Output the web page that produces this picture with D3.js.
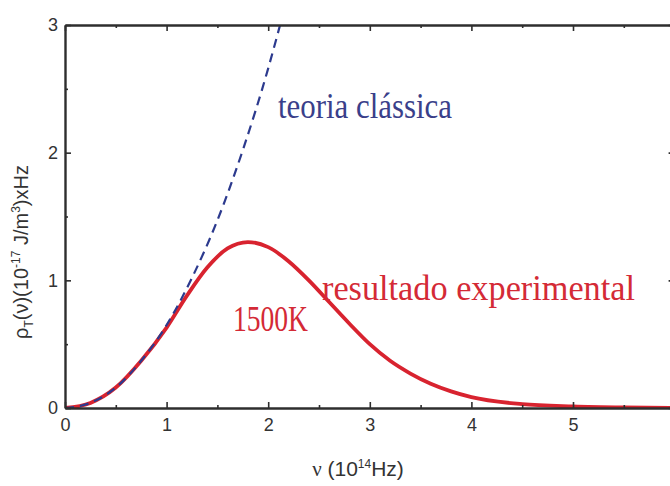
<!DOCTYPE html>
<html>
<head>
<meta charset="utf-8">
<script src="https://cdn.jsdelivr.net/npm/d3@7/dist/d3.min.js"></script>
<style>
  html, body { margin: 0; padding: 0; background: #fff; }
  svg { display: block; }
</style>
</head>
<body>
<svg id="chart" width="670" height="486"></svg>
<script>
// Spectral energy density at 1500 K: measured curve vs. classical prediction
const freq = [0, 0.25, 0.5, 0.75, 1.0, 1.2, 1.4, 1.6, 1.8, 2.0, 2.2, 2.4, 2.6, 2.8, 3.0, 3.2, 3.4, 3.6, 3.8, 4.0, 4.5, 5.0, 5.5, 6.0];
const experimental = [0, 0.04, 0.16, 0.37, 0.63, 0.88, 1.10, 1.25, 1.30, 1.26, 1.15, 1.00, 0.83, 0.66, 0.50, 0.37, 0.27, 0.19, 0.13, 0.085, 0.03, 0.012, 0.004, 0.001];

const freqClassical = [0, 0.25, 0.5, 0.75, 1.0, 1.25, 1.5, 1.75, 2.0, 2.1, 2.2];
const classical = [0, 0.04, 0.16, 0.37, 0.65, 1.02, 1.47, 2.02, 2.66, 2.95, 3.25];

const xTicks = [0, 0.5, 1, 1.5, 2, 2.5, 3, 3.5, 4, 4.5, 5, 5.5, 6];
const xTickLabels = [0, 1, 2, 3, 4, 5];
const yTicks = [0, 0.5, 1, 1.5, 2, 2.5, 3];
const yTickLabels = [0, 1, 2, 3];

const labelClassical = "teoria clássica";
const labelExperimental = "resultado experimental";
const labelTemp = "1500K";

const svg = d3.select("#chart");
const x = d3.scaleLinear().domain([0, 6]).range([65, 674.6]);
const y = d3.scaleLinear().domain([0, 3]).range([408, 25]);

const axisColor = "#2e2e2e";
const tickFont = "'Liberation Sans Narrow', 'Arial Narrow', 'Liberation Sans', Arial, sans-serif";

svg.append("defs").append("clipPath").attr("id", "plot-clip")
  .append("rect")
  .attr("x", x(0)).attr("y", y(3))
  .attr("width", x(6) - x(0)).attr("height", y(0) - y(3));

// curves
const expData = freq.map((f, i) => [f, experimental[i]]);
const clsData = freqClassical.map((f, i) => [f, classical[i]]);
const line = d3.line().x(d => x(d[0])).y(d => y(d[1])).curve(d3.curveMonotoneX);

const plot = svg.append("g").attr("clip-path", "url(#plot-clip)");
plot.append("path")
  .datum(expData)
  .attr("d", line)
  .attr("fill", "none")
  .attr("stroke", "#d8232f")
  .attr("stroke-width", 3.8)
  .attr("stroke-linejoin", "round");
plot.append("path")
  .datum(clsData)
  .attr("d", line)
  .attr("fill", "none")
  .attr("stroke", "#2c3a8e")
  .attr("stroke-width", 2.2)
  .attr("stroke-dasharray", "9,6");

// axes with inward ticks; only integer ticks are long
const isMajor = d => Math.abs(d - Math.round(d)) < 1e-9;
function styleAxis(g, horizontal) {
  g.select(".domain").attr("stroke", axisColor).attr("stroke-width", 2.4);
  g.selectAll(".tick line")
    .attr("stroke", axisColor)
    .attr("stroke-width", 1.6)
    .each(function(d) {
      const el = d3.select(this);
      const len = isMajor(d) ? 6 : 3;
      const attr = horizontal ? "y2" : "x2";
      const cur = +el.attr(attr);
      el.attr(attr, cur < 0 ? -len : len);
    });
  g.selectAll(".tick text")
    .attr("fill", "#333")
    .style("font-family", tickFont)
    .style("font-size", "18px");
}

const xAxis = d3.axisBottom(x).tickValues(xTicks).tickSizeInner(-6).tickSizeOuter(0)
  .tickPadding(10).tickFormat(d => xTickLabels.includes(d) ? d3.format("d")(d) : "");
svg.append("g").attr("transform", `translate(0,${y(0)})`).call(xAxis).call(g => styleAxis(g, true));

const xTop = d3.axisTop(x).tickValues(xTicks).tickSizeInner(-6).tickSizeOuter(0).tickFormat("");
svg.append("g").attr("transform", `translate(0,${y(3)})`).call(xTop).call(g => styleAxis(g, true));

const yAxis = d3.axisLeft(y).tickValues(yTicks).tickSizeInner(-6).tickSizeOuter(0)
  .tickPadding(7).tickFormat(d => yTickLabels.includes(d) ? d3.format("d")(d) : "");
svg.append("g").attr("transform", `translate(${x(0)},0)`).call(yAxis).call(g => styleAxis(g, false));

const yRight = d3.axisRight(y).tickValues(yTicks).tickSizeInner(-6).tickSizeOuter(0).tickFormat("");
svg.append("g").attr("transform", `translate(${x(6)},0)`).call(yRight).call(g => styleAxis(g, false));

// axis titles
const xTitle = svg.append("text")
  .attr("x", 358).attr("y", 476)
  .attr("text-anchor", "middle")
  .attr("fill", "#333")
  .style("font-family", tickFont)
  .style("font-size", "21px");
xTitle.append("tspan").style("font-family", "'Liberation Serif', 'Times New Roman', serif").text("ν");
xTitle.append("tspan").text(" (10");
xTitle.append("tspan").attr("dy", -8).style("font-size", "12px").text("14");
xTitle.append("tspan").attr("dy", 8).text("Hz)");

const yTitle = svg.append("text")
  .attr("transform", "translate(28,252) rotate(-90)")
  .attr("text-anchor", "middle")
  .attr("fill", "#333")
  .style("font-family", tickFont)
  .style("font-size", "20px");
yTitle.append("tspan").text("ρ");
yTitle.append("tspan").attr("dy", 5).style("font-size", "12px").text("T");
yTitle.append("tspan").attr("dy", -5).text("(ν)(10");
yTitle.append("tspan").attr("dy", -8).style("font-size", "12px").text("-17");
yTitle.append("tspan").attr("dy", 8).text(" J/m");
yTitle.append("tspan").attr("dy", -8).style("font-size", "12px").text("3");
yTitle.append("tspan").attr("dy", 8).text(")xHz");

// curve annotations
const serif = "'Liberation Serif', 'Times New Roman', serif";
svg.append("text")
  .attr("x", 278).attr("y", 118)
  .attr("textLength", 174).attr("lengthAdjust", "spacingAndGlyphs")
  .attr("fill", "#3a3f8a")
  .style("font-family", serif).style("font-size", "35px")
  .text(labelClassical);
svg.append("text")
  .attr("x", 322).attr("y", 300)
  .attr("textLength", 313).attr("lengthAdjust", "spacingAndGlyphs")
  .attr("fill", "#d42a36")
  .style("font-family", serif).style("font-size", "35px")
  .text(labelExperimental);
svg.append("text")
  .attr("x", 233).attr("y", 331)
  .attr("textLength", 75).attr("lengthAdjust", "spacingAndGlyphs")
  .attr("fill", "#d42a36")
  .style("font-family", serif).style("font-size", "35px")
  .text(labelTemp);
</script>
</body>
</html>
